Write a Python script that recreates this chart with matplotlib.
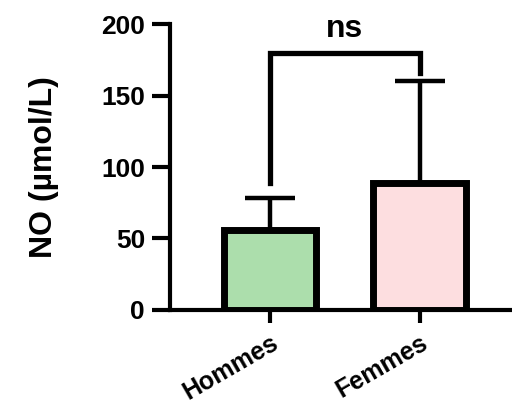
import matplotlib
matplotlib.use("Agg")
import matplotlib.pyplot as plt

groups = ['Hommes', 'Femmes']
means = [56, 89]
sd = [22, 71]
colors = ['#ACDEAC', '#FDDEE0']
yticks = [0, 50, 100, 150, 200]

plt.rcParams['font.family'] = ['Liberation Sans', 'DejaVu Sans']
plt.rcParams['font.weight'] = 'bold'

fig = plt.figure(figsize=(5.12, 4.03), dpi=100)
ax = fig.add_axes([0.332, 0.231, 0.664, 0.709])

x = list(range(len(groups)))
ax.bar(x, means, width=0.62, color=colors, edgecolor='black', linewidth=5, zorder=2)
ax.errorbar(x, means, yerr=[[0] * len(sd), sd], fmt='none', ecolor='black',
            elinewidth=3.2, capsize=18, capthick=3.2, zorder=1)

# significance bracket
top = 180
ax.plot([0, 0, 1, 1], [89, top, top, 166], color='black', lw=3.8,
        solid_joinstyle='miter', clip_on=False)
ax.text(0.5, top + 6, 'ns', ha='center', va='bottom', fontsize=23, fontweight='bold')

ax.set_xlim(-0.667, 1.6)
ax.set_ylim(0, 200)
ax.set_yticks(yticks)
ax.set_xticks(x)
ax.set_xticklabels(groups, rotation=30, ha='right', rotation_mode='anchor', fontsize=18)
ax.tick_params(axis='y', labelsize=19, width=3, length=13, pad=5)
ax.tick_params(axis='x', width=3, length=9, pad=6)
ax.set_ylabel('NO (µmol/L)', fontsize=23, fontweight='bold', labelpad=30)

for s in ['top', 'right']:
    ax.spines[s].set_visible(False)
ax.spines['left'].set_linewidth(3)
ax.spines['bottom'].set_linewidth(3)

fig.savefig('out.png', dpi=100)
